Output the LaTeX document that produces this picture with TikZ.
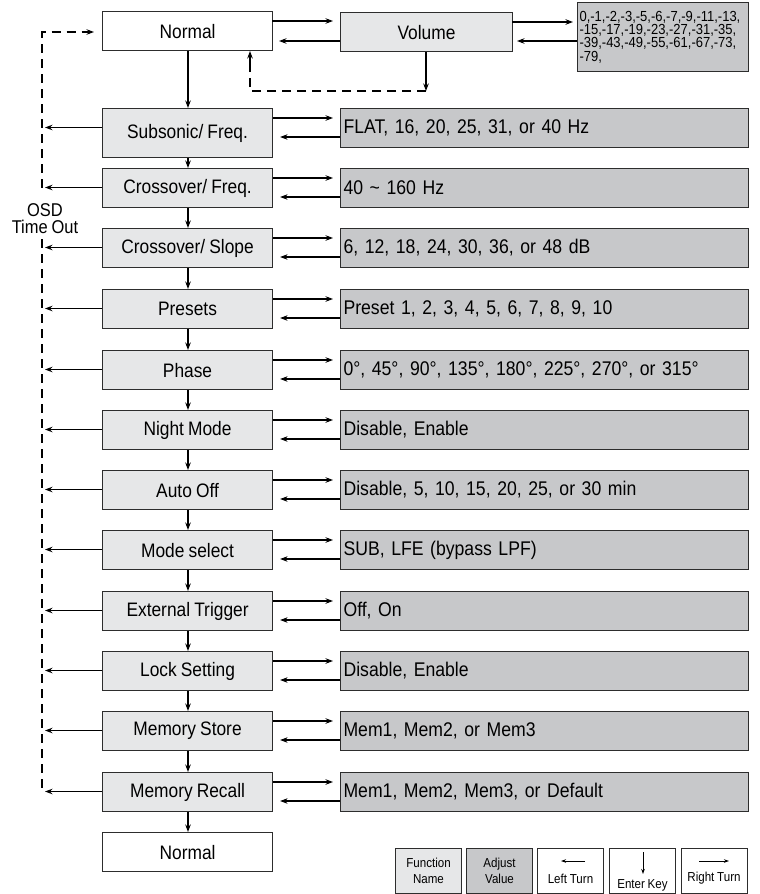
\documentclass[tikz,border=0pt]{standalone}
\usepackage{fontspec}
\setmainfont{Liberation Sans}
\newfontfamily\narrowfont[FakeStretch=0.89,WordSpace=0.85]{Liberation Sans}
\usetikzlibrary{arrows.meta,positioning}
\definecolor{fungray}{RGB}{230,231,232}
\definecolor{valgray}{RGB}{199,200,202}
\definecolor{edgecol}{RGB}{45,45,45}
\tikzset{
  fnbox/.style={draw=edgecol, line width=1.1pt, fill=fungray, rectangle, anchor=north west,
    minimum width=170pt, minimum height=39pt, inner sep=0pt,
    font=\narrowfont\fontsize{19.5}{22}\selectfont},
  wbox/.style={fnbox, fill=white},
  valbox/.style={draw=edgecol, line width=1.1pt, fill=valgray, rectangle, anchor=north west,
    minimum height=39pt, inner xsep=3pt, inner ysep=0pt, text width=402pt, align=left,
    font=\narrowfont\fontsize{19.8}{22}\selectfont},
  legbox/.style={draw=edgecol, line width=1pt, rectangle, anchor=north west,
    minimum width=66pt, minimum height=45pt, inner sep=0pt, align=center,
    font=\narrowfont\fontsize{13}{15.5}\selectfont},
  legtxt/.style={inner sep=0pt, font=\narrowfont\fontsize{13}{15}\selectfont},
  arr/.style={line width=1.1pt, -{Stealth[length=7.5pt,width=5.5pt]}},
  larr/.style={line width=0.9pt, -{Stealth[length=5pt,width=3.5pt]}},
  darr/.style={line width=1.1pt, dash pattern=on 9pt off 6pt},
  lbl/.style={inner sep=0pt, font=\narrowfont\fontsize{18.5}{17}\selectfont, align=center}
}
\begin{document}
\begin{tikzpicture}[x=1pt,y=-1pt]
\useasboundingbox (0,0) rectangle (760,894);

% top row
\node[wbox] (n0) at (102,11) {Normal};
\node[fnbox, minimum width=172pt] (vol) at (340,12) {Volume};
\node[draw=edgecol, line width=1.1pt, fill=valgray, anchor=north west, minimum width=171pt,
  minimum height=69pt, inner xsep=2pt, inner ysep=2pt, text width=167pt, align=left,
  font=\narrowfont\fontsize{14.6}{13.3}\selectfont] (volv) at (577,2)
  {0,-1,-2,-3,-5,-6,-7,-9,-11,-13,\\-15,-17,-19,-23,-27,-31,-35,\\-39,-43,-49,-55,-61,-67,-73,\\-79,};

\coordinate (n0r1) at (272,21); \coordinate (vl1) at (333,21);
\draw[arr] (n0r1) -- (vl1);
\coordinate (vl2) at (340,41); \coordinate (n0r2) at (279,41);
\draw[arr] (vl2) -- (n0r2);
\coordinate (vr1) at (512,22); \coordinate (vv1) at (573,22);
\draw[arr] (vr1) -- (vv1);
\coordinate (vv2) at (577,41); \coordinate (vr2) at (517,41);
\draw[arr] (vv2) -- (vr2);

\coordinate (vd) at (426,91);
\draw[arr] (vol.south -| vd) -- (vd);
\coordinate (nup) at (250,51);
\coordinate (nupd) at (250,63);
\draw[darr] (vd) -- (nup |- vd) -- (nupd);
\draw[arr] (nupd) -- (nup);

% function rows
\node[fnbox, minimum height=49pt] (f1) at (102,108) {Subsonic/ Freq.};
\node[fnbox] (f2) at (102,168) {Crossover/ Freq.};
\node[fnbox] (f3) at (102,228) {Crossover/ Slope};
\node[fnbox] (f4) at (102,289) {Presets};
\node[fnbox] (f5) at (102,350) {Phase};
\node[fnbox] (f6) at (102,410) {Night Mode};
\node[fnbox] (f7) at (102,470) {Auto Off};
\node[fnbox] (f8) at (102,530) {Mode select};
\node[fnbox] (f9) at (102,591) {External Trigger};
\node[fnbox] (f10) at (102,651) {Lock Setting};
\node[fnbox] (f11) at (102,711) {Memory Store};
\node[fnbox] (f12) at (102,772) {Memory Recall};
\node[wbox] (n1) at (102,832) {Normal};

\node[valbox] (v1) at (340,108) {FLAT, 16, 20, 25, 31, or 40 Hz};
\node[valbox] (v2) at (340,168) {40 \textasciitilde{} 160 Hz};
\node[valbox] (v3) at (340,228) {6, 12, 18, 24, 30, 36, or 48 dB};
\node[valbox] (v4) at (340,289) {Preset 1, 2, 3, 4, 5, 6, 7, 8, 9, 10};
\node[valbox] (v5) at (340,350) {0°, 45°, 90°, 135°, 180°, 225°, 270°, or 315°};
\node[valbox] (v6) at (340,410) {Disable, Enable};
\node[valbox] (v7) at (340,470) {Disable, 5, 10, 15, 20, 25, or 30 min};
\node[valbox] (v8) at (340,530) {SUB, LFE (bypass LPF)};
\node[valbox] (v9) at (340,591) {Off, On};
\node[valbox] (v10) at (340,651) {Disable, Enable};
\node[valbox] (v11) at (340,711) {Mem1, Mem2, or Mem3};
\node[valbox] (v12) at (340,772) {Mem1, Mem2, Mem3, or Default};

% vertical chain
\draw[arr] (n0.south -| 188,0) -- (f1.north -| 188,0);
\foreach \a/\b in {f1/f2,f2/f3,f3/f4,f4/f5,f5/f6,f6/f7,f7/f8,f8/f9,f9/f10,f10/f11,f11/f12,f12/n1}{
  \draw[arr] (\a.south -| 188,0) -- (\b.north -| 188,0);
}

% horizontal arrows
\foreach \i in {1,...,12}{
  \coordinate (tl\i) at ([yshift=-19.5pt]f\i.north west);
  \draw[arr] ([yshift=-10pt]f\i.north east) -- ([yshift=-10pt, xshift=-7pt]v\i.north west);
  \draw[arr] ([yshift=-29pt]v\i.north west) -- ([yshift=-29pt, xshift=7pt]f\i.north east);
  \draw[arr] (tl\i) -- (tl\i -| 45,0);
}

% OSD time out
\coordinate (dtop) at (42,32);
\coordinate (dmid) at (42,187.5);
\coordinate (dlow) at (42,239);
\coordinate (dbot) at (42,791.5);
\draw[darr] (dmid) -- (dtop) -- ([xshift=-12pt]n0.west |- dtop);
\draw[arr] ([xshift=-16pt]n0.west |- dtop) -- ([xshift=-8pt]n0.west |- dtop);
\draw[darr] (dlow) -- (dbot);
\node[lbl] (osd) at (45,219) {OSD\\Time Out};

% legend
\node[legbox, fill=fungray] (lg1) at (395,848) {Function\\Name};
\node[legbox, fill=valgray] (lg2) at (466,848) {Adjust\\Value};
\node[legbox, fill=white] (lg3) at (537,848) {};
\node[legbox, fill=white] (lg4) at (609,848) {};
\node[legbox, fill=white] (lg5) at (681,848) {};
\node[legtxt] (lt3) at (570.5,879) {Left Turn};
\node[legtxt] (lt4) at (642.5,885) {Enter Key};
\node[legtxt] (lt5) at (714,878) {Right Turn};
\coordinate (la1) at (585,861); \coordinate (la2) at (561,861);
\draw[larr] (la1) -- (la2);
\coordinate (ea1) at (643,852); \coordinate (ea2) at (643,874);
\draw[larr] (ea1) -- (ea2);
\coordinate (ra1) at (699,861); \coordinate (ra2) at (729,861);
\draw[larr] (ra1) -- (ra2);
\end{tikzpicture}
\end{document}
